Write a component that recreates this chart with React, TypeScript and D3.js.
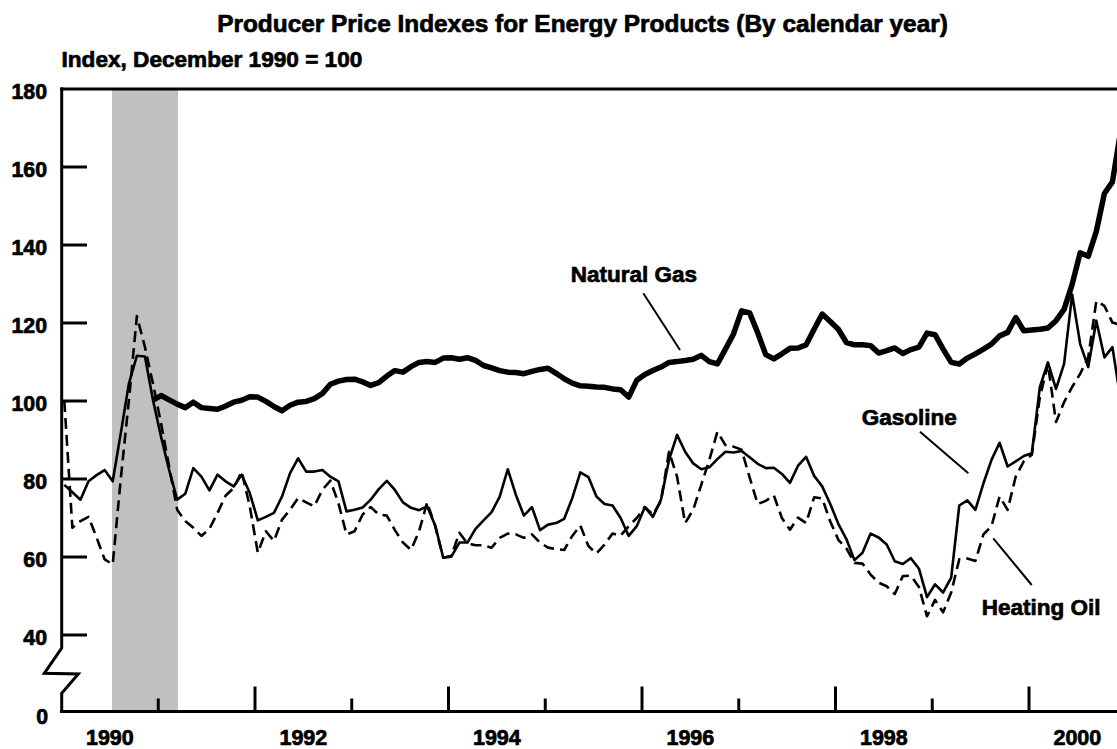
import React from "react";
import * as d3 from "d3";

// Monthly values, starting January 1990 (index 0) through December 2000
const gasoline: number[] = [
  78.5, 76.6, 74.7, 79.4, 81.0, 82.3, 79.4, 91.7, 104.4, 111.6, 111.4, 100.2,
  90.8, 82.3, 74.7, 76.2, 82.8, 80.6, 77.1, 81.1, 79.4, 78.1, 81.1, 76.4,
  69.4, 70.3, 71.3, 75.5, 81.5, 85.3, 81.9, 81.9, 82.3, 80.6, 79.4, 71.7,
  72.1, 72.7, 74.7, 77.4, 79.5, 77.2, 74.0, 72.6, 72.0, 73.0, 68.1, 59.8,
  60.1, 63.7, 63.7, 67.2, 69.4, 71.5, 75.5, 82.5, 76.0, 70.6, 72.8, 66.9,
  68.3, 68.7, 69.8, 75.1, 81.7, 80.5, 75.5, 73.6, 73.2, 70.0, 65.4, 67.9,
  72.8, 70.3, 74.7, 84.9, 91.3, 87.0, 84.0, 82.5, 83.0, 85.1, 87.0, 86.8,
  87.2, 85.6, 83.9, 82.8, 82.9, 81.3, 79.0, 83.4, 85.7, 80.8, 78.1, 73.6,
  68.5, 64.6, 59.2, 61.1, 66.0, 65.0, 63.2, 58.9, 58.2, 59.7, 57.0, 49.7,
  53.0, 50.9, 54.7, 73.2, 74.5, 72.1, 78.9, 84.9, 89.3, 83.2, 84.5, 85.9,
  86.6, 103.6, 109.9, 103.1, 109.5, 127.3, 114.6, 108.7, 120.6, 111.2, 113.8, 100.5,
];

const heatingOil: number[] = [
  100.0, 67.5, 69.2, 70.3, 65.0, 59.4, 58.1, 80.0, 100.0, 121.8, 113.8, 104.4,
  94.2, 83.2, 72.1, 69.2, 67.5, 65.4, 67.2, 71.3, 75.7, 77.7, 81.9, 73.0,
  61.1, 66.6, 64.1, 69.6, 72.1, 75.1, 74.0, 73.0, 77.2, 79.6, 73.8, 65.8,
  66.6, 70.9, 72.8, 70.9, 70.6, 66.9, 63.7, 61.8, 66.6, 74.0, 67.9, 59.8,
  60.3, 66.2, 63.5, 63.0, 63.0, 62.4, 64.9, 66.0, 65.8, 64.9, 65.8, 63.7,
  62.4, 62.0, 61.8, 65.4, 68.1, 62.8, 60.9, 63.2, 66.0, 65.5, 67.9, 70.0,
  72.8, 70.9, 74.3, 87.0, 80.6, 68.7, 72.1, 78.5, 84.9, 92.1, 88.7, 88.3,
  87.5, 80.4, 73.6, 74.4, 75.8, 70.0, 67.0, 70.1, 68.7, 75.3, 75.0, 69.1,
  64.4, 62.2, 58.5, 58.3, 55.5, 53.4, 52.5, 50.5, 55.1, 55.2, 52.3, 44.8,
  49.0, 45.8, 50.9, 59.4, 59.6, 59.0, 65.8, 67.9, 75.5, 72.1, 80.6, 84.5,
  86.2, 101.0, 109.5, 94.6, 99.7, 103.6, 107.0, 111.2, 125.6, 124.4, 120.1, 119.5,
];

// Natural gas starts in December 1990 (month index 11)
const gasStartMonth = 11;
const naturalGas: number[] = [
  100.2,
  101.4, 100.3, 99.2, 98.3, 99.7, 98.3, 98.1, 97.9, 98.7, 99.7, 100.2, 101.1,
  101.0, 99.9, 98.6, 97.5, 98.9, 99.7, 99.9, 100.6, 101.9, 104.3, 105.1, 105.5,
  105.6, 104.9, 104.0, 104.7, 106.4, 107.8, 107.4, 108.8, 109.9, 110.1, 109.9, 111.0,
  111.1, 110.7, 111.1, 110.4, 109.1, 108.5, 107.8, 107.4, 107.3, 107.0, 107.6, 108.1,
  108.4, 107.1, 105.7, 104.6, 103.9, 103.8, 103.6, 103.5, 103.1, 102.9, 101.0, 105.3,
  106.8, 107.8, 108.7, 109.9, 110.1, 110.4, 110.7, 111.7, 110.1, 109.5, 113.3, 117.2,
  123.1, 122.6, 117.5, 111.9, 110.8, 112.1, 113.5, 113.6, 114.4, 118.4, 122.3, 120.4,
  118.4, 115.0, 114.4, 114.4, 114.2, 112.3, 112.9, 113.6, 112.2, 113.2, 113.8, 117.4,
  117.0, 113.3, 109.9, 109.5, 111.0, 112.1, 113.3, 114.6, 116.7, 117.6, 121.4, 118.0,
  118.2, 118.4, 118.7, 120.6, 123.5, 129.9, 138.0, 137.1, 143.5, 153.2, 156.2, 169.0,
];

const yTickValues = [40, 60, 80, 100, 120, 140, 160, 180];
const yTickLabels = ["40", "60", "80", "100", "120", "140", "160", "180"];
const xTickYears = [1991, 1992, 1993, 1994, 1995, 1996, 1997, 1998, 1999, 2000];
const xLabelYears = [1990, 1992, 1994, 1996, 1998, 2000];
const recession = [1990 + 6.26 / 12, 1990 + 14.45 / 12];

const W = 1117;
const H = 749;
const FONT = "'Liberation Sans', Arial, Helvetica, sans-serif";

export default function App() {
  const x = d3.scaleLinear().domain([1990, 2001]).range([61.5, 1125.75]);
  const y = d3.scaleLinear().domain([40, 180]).range([635, 89]);
  const yZero = 711.5;
  const axisX = 61.7;
  const monthX = (i: number) => x(1990 + (i + 0.35) / 12);

  const line = d3
    .line<[number, number]>()
    .x((d) => monthX(d[0]))
    .y((d) => y(d[1]));

  const gasPts: [number, number][] = gasoline.map((v, i) => [i, v]);
  const oilPts: [number, number][] = heatingOil.map((v, i) => [i, v]);
  const ngPts: [number, number][] = naturalGas.map((v, i) => [i + gasStartMonth, v]);

  const breakTop = 648;
  const zig = `M${axisX},${y(180) - 1.5} L${axisX},${breakTop} L44.3,673.3 L78.3,674 L${axisX},693.3 L${axisX},${yZero + 1.5}`;

  const textStyle = { stroke: "#000", strokeWidth: 0.7, paintOrder: "stroke" } as React.CSSProperties;

  return (
    <svg
      width={W}
      height={H}
      style={{ position: "absolute", left: 0, top: 0, background: "#fff" }}
      fontFamily={FONT}
      fontWeight="bold"
    >
      <rect x={0} y={0} width={W} height={H} fill="#fff" />
      <text x={582.5} y={32} textAnchor="middle" fontSize={24.4} fill="#000" style={textStyle}>
        Producer Price Indexes for Energy Products (By calendar year)
      </text>
      <text x={61.5} y={66.5} fontSize={22.6} fill="#000" style={textStyle}>
        Index, December 1990 = 100
      </text>

      {/* recession shading */}
      <rect
        x={x(recession[0])}
        y={y(180)}
        width={x(recession[1]) - x(recession[0])}
        height={yZero - y(180)}
        fill="#c0c0c0"
      />

      {/* series */}
      <path d={line(oilPts) || ""} fill="none" stroke="#000" strokeWidth={2.6} strokeDasharray="11,6" strokeLinejoin="round" />
      <path d={line(gasPts) || ""} fill="none" stroke="#000" strokeWidth={2.6} strokeLinejoin="round" />
      <path d={line(ngPts) || ""} fill="none" stroke="#000" strokeWidth={5.5} strokeLinejoin="round" />

      {/* frame */}
      <line x1={axisX - 1.5} x2={W} y1={y(180)} y2={y(180)} stroke="#000" strokeWidth={3} />
      <line x1={axisX - 1.5} x2={W} y1={yZero} y2={yZero} stroke="#000" strokeWidth={3} />
      <path d={zig} fill="none" stroke="#000" strokeWidth={3} strokeLinejoin="miter" />

      {/* y ticks */}
      {yTickValues.map((v, k) => (
        <g key={v}>
          {v !== 180 && (
            <line x1={axisX} x2={87} y1={y(v)} y2={y(v)} stroke="#000" strokeWidth={3} />
          )}
          <text x={47} y={y(v) + 9.5} textAnchor="end" fontSize={21.3} fill="#000" style={textStyle}>
            {yTickLabels[k]}
          </text>
        </g>
      ))}
      <text x={48} y={yZero + 12.5} textAnchor="end" fontSize={21.3} fill="#000" style={textStyle}>
        0
      </text>

      {/* x ticks */}
      {xTickYears.map((yr) => (
        <line
          key={yr}
          x1={x(yr)}
          x2={x(yr)}
          y1={yZero}
          y2={yZero - (yr % 2 === 0 ? 25 : 13)}
          stroke="#000"
          strokeWidth={3}
        />
      ))}
      {xLabelYears.map((yr) => (
        <text key={yr} x={x(yr + 0.5)} y={744.5} textAnchor="middle" fontSize={21.5} fill="#000" style={textStyle}>
          {yr}
        </text>
      ))}

      {/* annotations */}
      <text x={570.7} y={281.7} fontSize={22.5} fill="#000" style={textStyle}>Natural Gas</text>
      <line x1={643.3} y1={293.3} x2={680} y2={350} stroke="#000" strokeWidth={2} />
      <text x={861.7} y={425} fontSize={22.5} fill="#000" style={textStyle}>Gasoline</text>
      <line x1={920} y1={431.7} x2={968.3} y2={473.3} stroke="#000" strokeWidth={2} />
      <text x={981.7} y={615} fontSize={22.5} fill="#000" style={textStyle}>Heating Oil</text>
      <line x1={993.3} y1={538.3} x2={1031.7} y2={585} stroke="#000" strokeWidth={2} />
    </svg>
  );
}
